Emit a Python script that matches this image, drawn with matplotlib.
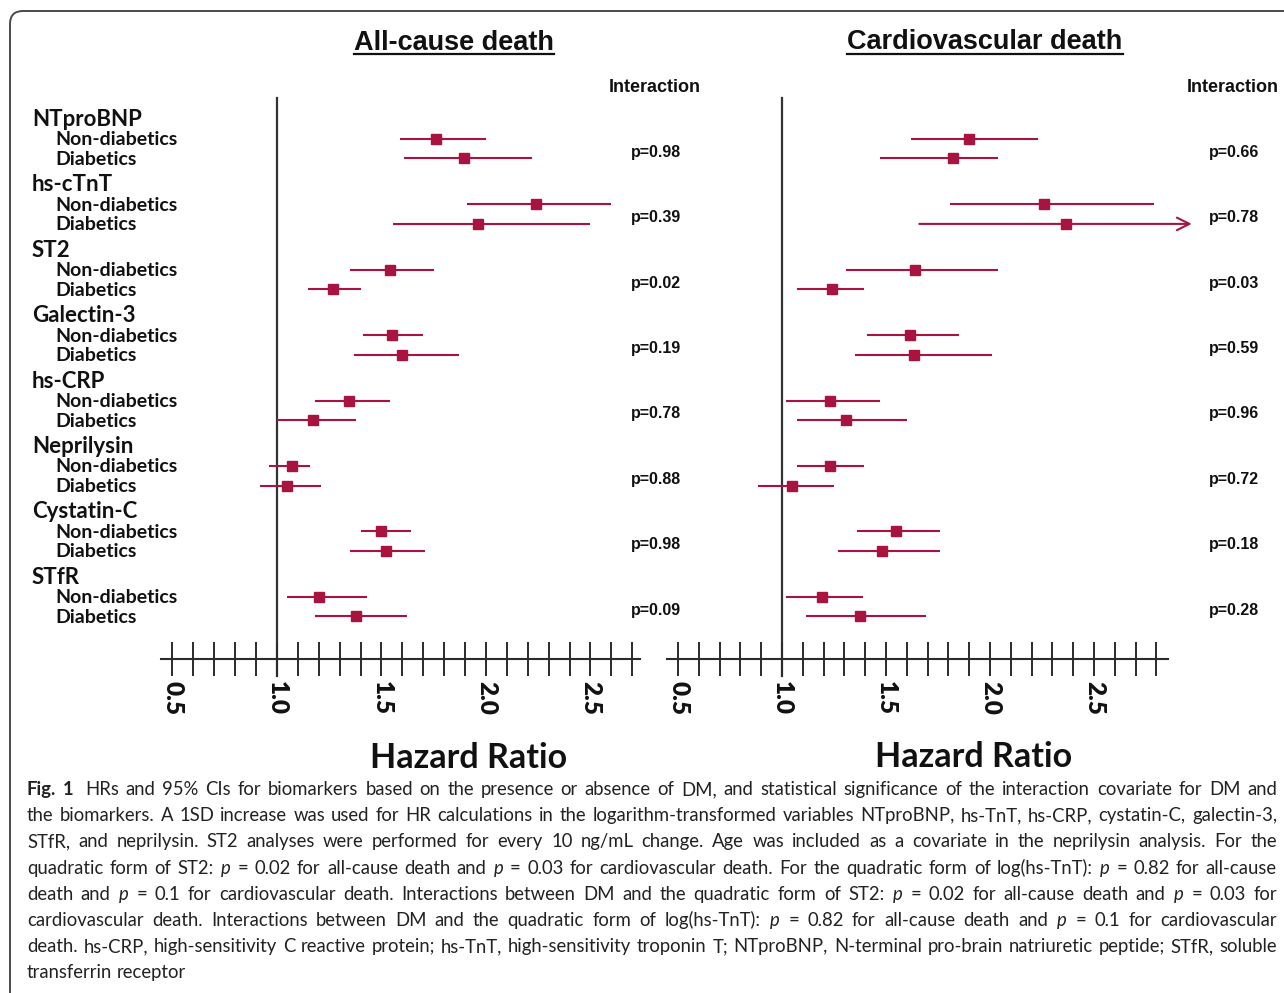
import numpy as np
import matplotlib
matplotlib.use("Agg")
import matplotlib.pyplot as plt
from matplotlib import transforms
from matplotlib.patches import FancyBboxPatch

plt.rcParams['mathtext.fontset'] = 'custom'
plt.rcParams['mathtext.it'] = 'Lato:italic'
plt.rcParams['mathtext.rm'] = 'Lato'

# ---------------- data ----------------
biomarkers = ["NTproBNP", "hs-cTnT", "ST2", "Galectin-3", "hs-CRP",
              "Neprilysin", "Cystatin-C", "STfR"]
subgroups = ["Non-diabetics", "Diabetics"]

# All-cause death
acd_nd_hr = [1.76, 2.24, 1.54, 1.55, 1.345, 1.07, 1.50, 1.20]
acd_nd_lo = [1.59, 1.91, 1.35, 1.41, 1.18, 0.96, 1.40, 1.05]
acd_nd_hi = [2.00, 2.60, 1.75, 1.70, 1.54, 1.16, 1.64, 1.43]
acd_d_hr = [1.895, 1.96, 1.27, 1.60, 1.17, 1.05, 1.52, 1.38]
acd_d_lo = [1.61, 1.555, 1.15, 1.37, 1.00, 0.92, 1.35, 1.18]
acd_d_hi = [2.22, 2.50, 1.40, 1.87, 1.38, 1.21, 1.71, 1.62]
acd_p = ["p=0.98", "p=0.39", "p=0.02", "p=0.19", "p=0.78", "p=0.88", "p=0.98", "p=0.09"]

# Cardiovascular death
cvd_nd_hr = [1.90, 2.26, 1.64, 1.615, 1.23, 1.23, 1.55, 1.19]
cvd_nd_lo = [1.62, 1.81, 1.31, 1.41, 1.02, 1.07, 1.36, 1.02]
cvd_nd_hi = [2.23, 2.79, 2.04, 1.85, 1.47, 1.395, 1.76, 1.39]
cvd_d_hr = [1.82, 2.365, 1.24, 1.635, 1.31, 1.05, 1.48, 1.375]
cvd_d_lo = [1.47, 1.66, 1.07, 1.35, 1.07, 0.885, 1.27, 1.115]
cvd_d_hi = [2.04, 2.97, 1.395, 2.01, 1.60, 1.25, 1.76, 1.69]
cvd_d_truncated = [False, True, False, False, False, False, False, False]
cvd_p = ["p=0.66", "p=0.78", "p=0.03", "p=0.59", "p=0.96", "p=0.72", "p=0.18", "p=0.28"]

panel_titles = ["All-cause death", "Cardiovascular death"]
xlabel = "Hazard Ratio"
interaction_label = "Interaction"
major_ticks = [0.5, 1.0, 1.5, 2.0, 2.5]

caption_lines = [
    "Fig. 1  HRs and 95% CIs for biomarkers based on the presence or absence of DM, and statistical significance of the interaction covariate for DM and",
    "the biomarkers. A 1SD increase was used for HR calculations in the logarithm-transformed variables NTproBNP, hs-TnT, hs-CRP, cystatin-C, galectin-3,",
    "STfR, and neprilysin. ST2 analyses were performed for every 10 ng/mL change. Age was included as a covariate in the neprilysin analysis. For the",
    "quadratic form of ST2: $p$ = 0.02 for all-cause death and $p$ = 0.03 for cardiovascular death. For the quadratic form of log(hs-TnT): $p$ = 0.82 for all-cause",
    "death and $p$ = 0.1 for cardiovascular death. Interactions between DM and the quadratic form of ST2: $p$ = 0.02 for all-cause death and $p$ = 0.03 for",
    "cardiovascular death. Interactions between DM and the quadratic form of log(hs-TnT): $p$ = 0.82 for all-cause death and $p$ = 0.1 for cardiovascular",
    "death. hs-CRP, high-sensitivity C reactive protein; hs-TnT, high-sensitivity troponin T; NTproBNP, N-terminal pro-brain natriuretic peptide; STfR, soluble",
    "transferrin receptor",
]

# ---------------- layout ----------------
W, H = 1284, 993
DPI = 100
fig = plt.figure(figsize=(W / DPI, H / DPI), dpi=DPI)
fig.patch.set_facecolor("white")

RED = "#A8143F"
DARK = "#2b2b2b"
G = 3.354          # spacing between biomarker groups (in row units)
PX_ROW = 19.5      # pixels per row unit
Y0_PX = 139        # pixel y of first row
AX_TOP, AX_BOT = 95, 659


def fx(x):
    return x / W


def fy(y):
    return 1 - y / H


def make_axes(x0, x1, v_at_x0, v_at_x1):
    ax = fig.add_axes([fx(x0), fy(AX_BOT), (x1 - x0) / W, (AX_BOT - AX_TOP) / H])
    ax.set_xlim(v_at_x0, v_at_x1)
    ax.set_ylim((AX_BOT - Y0_PX) / PX_ROW, (AX_TOP - Y0_PX) / PX_ROW)
    ax.patch.set_alpha(0)
    for s in ["top", "left", "right"]:
        ax.spines[s].set_visible(False)
    ax.spines["bottom"].set_linewidth(1.5)
    ax.spines["bottom"].set_color(DARK)
    ax.set_yticks([])
    return ax


def scale(x_ref, v_ref, ppu, x):
    return v_ref + (x - x_ref) / ppu


axL = make_axes(161, 640, scale(277, 1.0, 209, 161), scale(277, 1.0, 209, 640))
axR = make_axes(667, 1168, scale(782, 1.0, 208, 667), scale(782, 1.0, 208, 1168))


def setup_ticks(ax, tmax):
    ticks = np.round(np.arange(0.5, tmax + 1e-9, 0.1), 1)
    ax.set_xticks(ticks)
    labs = [f"{t:.1f}" if any(abs(t - m) < 1e-6 for m in major_ticks) else "" for t in ticks]
    ax.set_xticklabels(labs, rotation=270, fontfamily="Lato", fontweight="heavy",
                       fontsize=17.5)
    ax.tick_params(axis="x", direction="inout", length=23.8, width=1.4,
                   color=DARK, pad=4, labelcolor="#111111")


setup_ticks(axL, 2.7)
setup_ticks(axR, 2.8)

panels = [
    (axL, acd_nd_hr, acd_nd_lo, acd_nd_hi, acd_d_hr, acd_d_lo, acd_d_hi,
     [False] * 8, acd_p, 656),
    (axR, cvd_nd_hr, cvd_nd_lo, cvd_nd_hi, cvd_d_hr, cvd_d_lo, cvd_d_hi,
     cvd_d_truncated, cvd_p, 1234),
]

for (ax, ndh, ndl, ndu, dh, dl, du, trunc, pv, pvx) in panels:
    blend = transforms.blended_transform_factory(ax.transData, ax.transAxes)
    ax.plot([1.0, 1.0], [-0.030, 0.995], transform=blend, color="#333333",
            lw=1.6, clip_on=False, zorder=1)
    for i in range(len(biomarkers)):
        rows = [(ndh[i], ndl[i], ndu[i], False), (dh[i], dl[i], du[i], trunc[i])]
        for j, (hr, lo, hi, tr) in enumerate(rows):
            y = G * i + j
            if tr:
                ax.annotate("", xy=(hi, y), xytext=(lo, y), annotation_clip=False,
                            arrowprops=dict(arrowstyle="->,head_length=0.9,head_width=0.45",
                                            color=RED, lw=1.5, shrinkA=0, shrinkB=0))
            else:
                ax.plot([lo, hi], [y, y], color=RED, lw=1.5, clip_on=False,
                        solid_capstyle="butt", zorder=2)
            ax.plot([hr], [y], marker="s", ms=7.2, color=RED, mec=RED,
                    clip_on=False, zorder=3)
        tp = transforms.blended_transform_factory(fig.transFigure, ax.transData)
        ax.text(fx(pvx), G * i + 0.68, pv[i], transform=tp, ha="center",
                va="center", fontfamily="Liberation Sans", fontweight="bold",
                fontsize=11.5, color="#111111")

# row labels
tl = transforms.blended_transform_factory(fig.transFigure, axL.transData)
for i, name in enumerate(biomarkers):
    axL.text(fx(32), G * i - 1.0, name, transform=tl, ha="left", va="center",
             fontfamily="Lato", fontweight="bold", fontsize=16, color="#111111")
    for j, sg in enumerate(subgroups):
        axL.text(fx(55), G * i + j + 0.05, sg, transform=tl, ha="left", va="center",
                 fontfamily="Lato", fontweight="bold", fontsize=14, color="#111111")

# interaction headers
for cx in (655, 1233):
    fig.text(fx(cx), fy(88), interaction_label, ha="center", va="center",
             fontfamily="Liberation Sans", fontweight="bold", fontsize=13, color="#111111")

# titles
title_objs = []
for txt, cx, cy in [(panel_titles[0], 454, 43), (panel_titles[1], 985, 42)]:
    t = fig.text(fx(cx), fy(cy), txt, ha="center", va="center",
                 fontfamily="Liberation Sans", fontweight="bold", fontsize=19.5,
                 color="#111111")
    title_objs.append((t, cy))

# x labels
for cx, cy in [(469, 758), (974, 757)]:
    fig.text(fx(cx), fy(cy), xlabel, ha="center", va="center", fontfamily="Lato",
             fontweight="bold", fontsize=24.5, color="#111111")

# border
box = FancyBboxPatch((10, -30), 1320, 1012, boxstyle="round,pad=0,rounding_size=13",
                     transform=transforms.IdentityTransform(), lw=1.4,
                     ec="#4a4a4a", fc="none")
fig.add_artist(box)

fig.canvas.draw()
renderer = fig.canvas.get_renderer()

# underlines for titles
for t, cy in title_objs:
    bb = t.get_window_extent(renderer)
    yline = fy(54)
    fig.add_artist(plt.Line2D([bb.x0 / W, bb.x1 / W], [yline, yline],
                              transform=fig.transFigure, color="#111111", lw=1.6))

# caption with justification
CAP_FS0 = 16.0
LEFT, RIGHT = 27, 1277
line_tokens = [[w for w in line.split(" ") if w != ""] for line in caption_lines]


def tok_width(text, fs, bold=False):
    t = fig.text(0, 0, text, fontfamily="Lato", fontsize=fs,
                 fontweight="bold" if bold else "normal")
    w = t.get_window_extent(renderer).width
    t.remove()
    return w


sp0 = tok_width("a a", CAP_FS0) - tok_width("aa", CAP_FS0)
nat = []
for k, toks in enumerate(line_tokens):
    ws = [tok_width(tk, CAP_FS0, bold=(k == 0 and n < 2)) for n, tk in enumerate(toks)]
    nat.append(sum(ws) + sp0 * (len(toks) - 1))
cap_fs = CAP_FS0 * min(1.0, (RIGHT - LEFT) * 0.995 / max(nat[:-1]))
sp = tok_width("a a", cap_fs) - tok_width("aa", cap_fs)

for k, toks in enumerate(line_tokens):
    bolds = [(k == 0 and n < 2) for n in range(len(toks))]
    ws = [tok_width(tk, cap_fs, bold=b) for tk, b in zip(toks, bolds)]
    last = (k == len(line_tokens) - 1)
    extra = [0.0] * len(toks)
    if k == 0:
        extra[2] = sp  # double space after "Fig. 1"
    if last:
        gap = sp
    else:
        gap = (RIGHT - LEFT - sum(ws) - sum(extra)) / (len(toks) - 1)
    x = LEFT
    ybase = 795 + 26.2 * k
    for n, (tk, w, b) in enumerate(zip(toks, ws, bolds)):
        x += extra[n]
        fig.text(fx(x), fy(ybase), tk, ha="left", va="baseline", fontfamily="Lato",
                 fontsize=cap_fs, fontweight="bold" if b else "normal", color="#222222")
        x += w + gap

fig.savefig("out.png", dpi=DPI, facecolor="white")
